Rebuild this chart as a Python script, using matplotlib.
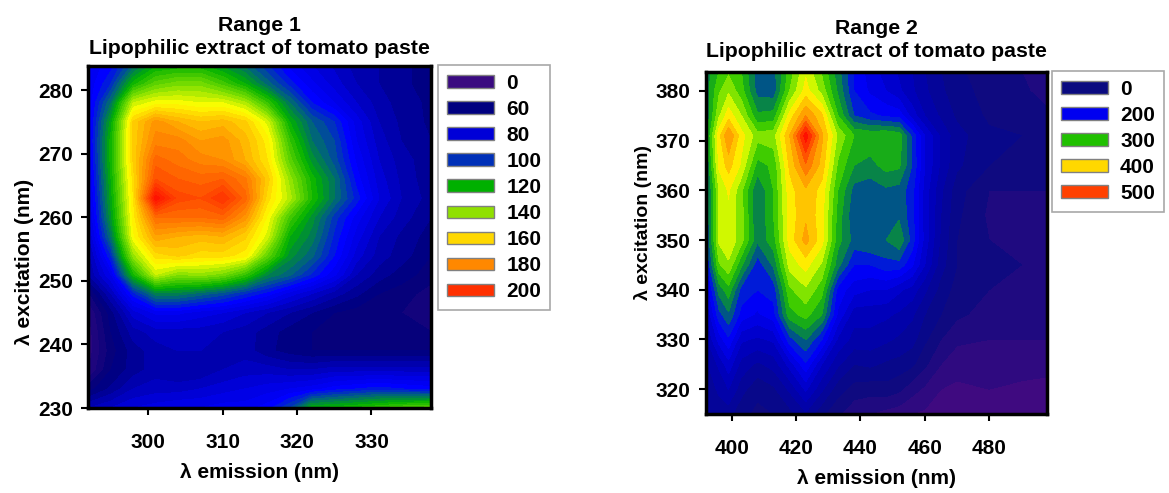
#!/usr/bin/env python3
# -*- coding: utf-8 -*-
import numpy as np
import matplotlib
matplotlib.use('Agg')
import matplotlib.pyplot as plt
from matplotlib.colors import LinearSegmentedColormap, Normalize
from matplotlib.patches import Patch

plt.rcParams['font.family'] = ['Liberation Sans', 'DejaVu Sans']
plt.rcParams['font.weight'] = 'bold'

W, H = 1169, 493

# ---- Range 1 data
em1 = [292, 295, 298, 301, 304, 307, 310, 313, 316, 319, 322, 325, 328, 331, 334, 338]
ex1 = [284, 281, 278, 275, 272, 269, 266, 263, 260, 257, 254, 251, 248, 245, 242, 239, 236, 233, 230]
z1 = [
    [85, 90, 105, 118, 120, 120, 114, 106, 96, 86, 80, 75, 70, 68, 65, 62],
    [85, 96, 122, 134, 138, 138, 130, 120, 106, 94, 85, 78, 72, 68, 65, 62],
    [85, 108, 148, 154, 154, 152, 152, 145, 128, 108, 92, 84, 76, 70, 66, 63],
    [85, 118, 165, 178, 172, 168, 170, 165, 150, 120, 104, 96, 82, 72, 67, 63],
    [85, 122, 165, 182, 182, 176, 178, 170, 158, 128, 108, 100, 84, 74, 68, 64],
    [84, 122, 165, 190, 186, 182, 180, 172, 160, 134, 114, 102, 87, 76, 70, 65],
    [82, 120, 162, 196, 192, 190, 192, 185, 166, 142, 122, 108, 90, 78, 71, 65],
    [80, 118, 160, 215, 198, 196, 204, 190, 162, 146, 124, 108, 94, 80, 72, 66],
    [78, 115, 158, 188, 188, 188, 190, 178, 155, 130, 114, 98, 86, 76, 70, 64],
    [75, 108, 155, 175, 172, 170, 172, 165, 150, 120, 110, 95, 82, 72, 67, 62],
    [70, 96, 142, 162, 165, 162, 162, 158, 135, 114, 105, 92, 78, 70, 66, 60],
    [68, 84, 122, 148, 140, 142, 138, 128, 112, 105, 95, 85, 72, 66, 62, 58],
    [55, 72, 94, 110, 110, 106, 102, 96, 90, 82, 76, 70, 65, 60, 58, 54],
    [48, 62, 78, 85, 85, 82, 80, 76, 72, 68, 64, 60, 58, 57, 56, 52],
    [46, 60, 70, 74, 74, 74, 72, 70, 66, 62, 60, 58, 58, 57, 57, 56],
    [46, 58, 66, 70, 72, 72, 72, 70, 65, 62, 60, 60, 60, 60, 60, 60],
    [48, 60, 66, 70, 68, 68, 72, 74, 74, 72, 72, 74, 74, 74, 74, 74],
    [58, 65, 72, 74, 74, 76, 78, 80, 82, 84, 86, 90, 92, 94, 92, 90],
    [72, 76, 80, 82, 84, 84, 86, 86, 90, 100, 120, 122, 125, 128, 132, 135],
]
legend_vals1 = [0, 60, 80, 100, 120, 140, 160, 180, 200]
legend_cols1 = ['#3a0a80', '#000080', '#0000d8', '#0030b8', '#00b000', '#90e000', '#ffd800', '#ff8800', '#ff3000']

# ---- Range 2 data
em2 = [392, 396, 399, 403, 408, 413, 418, 423, 428, 433, 438, 443, 448, 452, 456, 460, 465, 470, 480, 490, 498]
ex2 = [384, 380, 375, 371, 365, 360, 355, 350, 345, 340, 335, 330, 325, 320, 315]
z2 = [
    [260, 300, 320, 300, 235, 240, 310, 370, 320, 260, 200, 160, 140, 120, 100, 75, 50, 30, 10, 0, -10],
    [260, 320, 345, 310, 240, 235, 325, 385, 340, 270, 200, 170, 150, 130, 105, 80, 55, 35, 15, 5, -10],
    [250, 345, 390, 350, 280, 285, 385, 450, 405, 300, 225, 205, 195, 190, 140, 100, 70, 45, 20, 15, 5],
    [260, 390, 450, 385, 335, 340, 425, 540, 430, 345, 300, 295, 300, 290, 220, 150, 95, 60, 30, 25, 20],
    [240, 380, 410, 370, 290, 305, 405, 470, 415, 320, 275, 265, 285, 280, 225, 150, 95, 55, 25, 15, 10],
    [225, 350, 378, 330, 250, 300, 390, 420, 390, 300, 240, 235, 245, 240, 210, 140, 80, 35, 0, 0, 0],
    [220, 355, 370, 335, 250, 300, 385, 420, 385, 290, 230, 250, 250, 245, 210, 140, 75, 30, -5, -5, -5],
    [215, 355, 370, 335, 255, 290, 385, 435, 385, 285, 240, 250, 250, 270, 215, 140, 70, 25, 0, 0, -5],
    [190, 320, 345, 280, 210, 255, 360, 385, 345, 260, 200, 200, 215, 215, 180, 125, 60, 25, 5, 0, -5],
    [150, 260, 290, 215, 200, 210, 320, 345, 310, 190, 160, 150, 150, 130, 115, 80, 40, 15, 0, -5, -10],
    [120, 215, 245, 190, 170, 190, 290, 310, 275, 170, 110, 110, 105, 95, 80, 50, 25, 5, -10, -15, -15],
    [95, 160, 195, 130, 120, 130, 215, 250, 200, 120, 90, 90, 80, 70, 60, 30, 0, -20, -25, -25, -25],
    [70, 105, 140, 90, 70, 85, 135, 195, 125, 80, 50, 55, 45, 40, 30, 5, -25, -40, -35, -40, -40],
    [55, 80, 100, 60, 30, 45, 80, 130, 80, 35, 15, 10, 15, 5, -15, -30, -50, -55, -50, -55, -60],
    [50, 60, 60, 30, 20, 25, 40, 70, 30, 5, -20, -25, -35, -40, -50, -55, -55, -60, -60, -70, -75],
]
legend_vals2 = [0, 200, 300, 400, 500]
legend_cols2 = ['#0a0a80', '#0000f0', '#20c000', '#ffd800', '#ff4000']


def make_cmap(nodes):
    lo, hi = nodes[0][0], nodes[-1][0]
    pts = [((v-lo)/(hi-lo), c) for v, c in nodes]
    return LinearSegmentedColormap.from_list('fl', pts, N=512), Normalize(lo, hi)


cmap1, norm1 = make_cmap([(40, '#3c0a80'), (60, '#00007a'), (80, '#0000e0'), (90, '#0000ff'),
                          (105, '#006080'), (120, '#00b000'), (140, '#80e000'), (155, '#ffff00'),
                          (165, '#ffd000'), (180, '#ff8c00'), (200, '#ff4000'), (220, '#ff0000')])
cmap2, norm2 = make_cmap([(-80, '#4a0a80'), (-30, '#2a0a80'), (20, '#0a0a80'), (100, '#0000b0'),
                          (200, '#0000ff'), (250, '#007060'), (300, '#20c000'), (350, '#a0f000'),
                          (375, '#ffff00'), (400, '#ffd800'), (450, '#ff9000'), (500, '#ff4000'),
                          (550, '#ff0000')])


def px_axes(fig, x0, x1, y0, y1):
    return fig.add_axes([x0/W, 1-y1/H, (x1-x0)/W, (y1-y0)/H])


def draw_panel(ax, em, ex, z, levels, cmap, norm, xlim, ylim, xticks, yticks, title, ylab_y, ylab_fs, title_pad):
    ax.contourf(em, ex, np.array(z), levels=levels, cmap=cmap, norm=norm, extend='both')
    ax.set_xlim(xlim)
    ax.set_ylim(ylim)
    ax.set_xticks(xticks)
    ax.set_yticks(yticks)
    ax.tick_params(labelsize=15, width=1.5, length=5, pad=6, direction='out')
    ax.tick_params(axis='x', pad=13)
    for s in ax.spines.values():
        s.set_linewidth(2.5)
    ax.set_xlabel('λ emission (nm)', fontsize=15, fontweight='bold', labelpad=8)
    ax.set_ylabel('λ excitation (nm)', fontsize=ylab_fs, fontweight='bold', labelpad=3, y=ylab_y)
    ax.set_title(title, fontsize=15.3, fontweight='bold', pad=title_pad, linespacing=1.25)


def draw_legend(ax, fig, vals, cols, x, y):
    handles = [Patch(facecolor=c, edgecolor='#808080', linewidth=1) for c in cols]
    leg = ax.legend(handles, [str(v) for v in vals], loc='upper left',
                    bbox_to_anchor=(x/W, 1-y/H), bbox_transform=fig.transFigure,
                    fontsize=15, frameon=True, fancybox=False, edgecolor='#a8a8a8', framealpha=1,
                    handlelength=2.25, handleheight=0.55, handletextpad=0.6, labelspacing=0.34,
                    borderpad=0.42, borderaxespad=0)
    leg.get_frame().set_linewidth(1.2)


fig = plt.figure(figsize=[W/100, H/100], dpi=100)

ax1 = px_axes(fig, 88, 431, 66, 408)
draw_panel(ax1, em1, ex1, z1, np.arange(40, 224, 4), cmap1, norm1,
           (291.9, 338), (230, 283.8), [300, 310, 320, 330], [230, 240, 250, 260, 270, 280],
           'Range 1\nLipophilic extract of tomato paste', 0.427, 15, 9)
draw_legend(ax1, fig, legend_vals1, legend_cols1, 438, 65)

ax2 = px_axes(fig, 706, 1047, 72, 414)
draw_panel(ax2, em2, ex2, z2, np.arange(-75, 575, 25), cmap2, norm2,
           (392, 498), (315, 383.8), [400, 420, 440, 460, 480], [320, 330, 340, 350, 360, 370, 380],
           'Range 2\nLipophilic extract of tomato paste', 0.56, 14, 11)
draw_legend(ax2, fig, legend_vals2, legend_cols2, 1052, 71)

fig.savefig('out.png', dpi=100)
